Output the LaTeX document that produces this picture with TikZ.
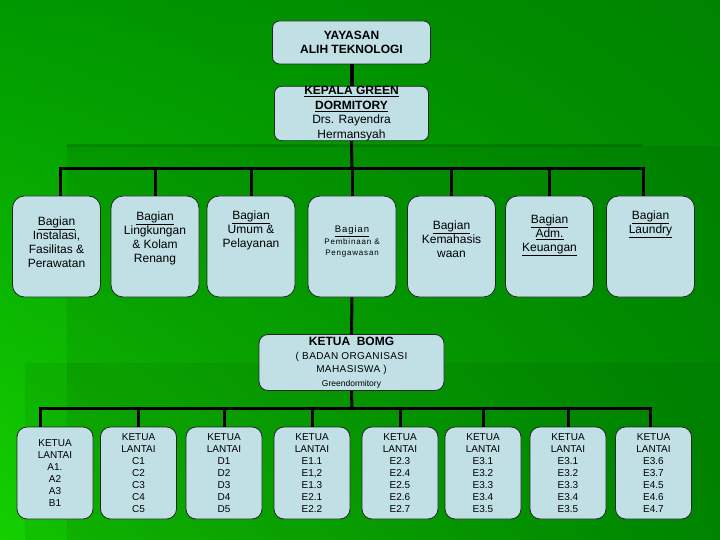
\documentclass[tikz,border=0pt]{standalone}
\usepackage{fontspec}
\setmainfont{Liberation Sans}
\usetikzlibrary{positioning, shadings}
\definecolor{boxblue}{RGB}{192,224,229}
\definecolor{bgdark}{RGB}{0,132,0}
\definecolor{bgmid}{RGB}{0,152,0}
\definecolor{bglight}{RGB}{20,208,0}

\begin{document}
\begin{tikzpicture}[
    x=1pt, y=-1pt,
    box/.style={rectangle, draw=black!85, line width=0.8pt, fill=boxblue, align=center, inner sep=0pt},
    head/.style={box, rounded corners=7pt, minimum width=158pt, font=\fontsize{12}{14}\selectfont},
    bagian/.style={box, rounded corners=12pt, minimum width=88pt, minimum height=101pt},
    btext/.style={align=center, inner sep=0pt, font=\fontsize{12}{14}\selectfont},
    lantai/.style={box, rounded corners=10pt, minimum width=76pt, minimum height=92pt, font=\fontsize{10}{12}\selectfont},
    line/.style={black, line width=3pt}
]
    \useasboundingbox (0,0) rectangle (720,540);
    % background
    \shade[upper left=bgmid, upper right=bgdark, lower left=bglight, lower right=bgmid] (0,0) rectangle (720,540);
    \fill[black, opacity=.07] (67,146) rectangle (720,540);
    \fill[black, opacity=.06] (25,363) rectangle (720,540);
    \draw[black, opacity=.15, line width=3pt] (67,146) -- (643,146);

    % top
    \node[head, minimum height=43pt] (yayasan) at (351.5,42.5) {\bfseries YAYASAN\\\bfseries ALIH TEKNOLOGI};
    \node[head, minimum width=154pt, minimum height=54pt, font=\fontsize{12}{14.5}\selectfont] (kepala) at (351.5,113.5)
        {\bfseries\underline{KEPALA GREEN}\\\bfseries\underline{DORMITORY}\\Drs. Rayendra\\Hermansyah};

    % bagian
    \node[bagian] (b1) at (56.5,246.5) {};
    \node[bagian] (b2) at (155,246.5) {};
    \node[bagian] (b3) at (251,246.5) {};
    \node[bagian] (b4) at (352,246.5) {};
    \node[bagian] (b5) at (451.5,246.5) {};
    \node[bagian] (b6) at (549.5,246.5) {};
    \node[bagian] (b7) at (650.5,246.5) {};
    \node[btext, below=21pt of b1.north] (b1t) {\underline{Bagian}\\Instalasi,\\Fasilitas \&\\Perawatan};
    \node[btext, below=16pt of b2.north] (b2t) {\underline{Bagian}\\Lingkungan\\\& Kolam\\Renang};
    \node[btext, below=15pt of b3.north] (b3t) {\underline{Bagian}\\Umum \&\\Pelayanan};
    \node[btext, below=30pt of b4.north, font=\fontsize{8}{11.5}\selectfont\addfontfeature{LetterSpace=10}] (b4t)
        {{\fontsize{9.5}{11.5}\selectfont\underline{Bagian}}\\Pembinaan \&\\Pengawasan};
    \node[btext, below=25pt of b5.north] (b5t) {\underline{Bagian}\\Kemahasis\\waan};
    \node[btext, below=19pt of b6.north] (b6t) {\underline{Bagian}\\\underline{Adm.}\\\underline{Keuangan}};
    \node[btext, below=15pt of b7.north] (b7t) {\underline{Bagian}\\\underline{Laundry}};

    % bomg
    \node[box, rounded corners=9pt, minimum width=185pt, minimum height=56pt, font=\fontsize{10}{13.5}\selectfont] (bomg) at (351.5,362.5)
        {{\fontsize{12}{13.5}\selectfont\bfseries KETUA~~BOMG}\\\addfontfeature{LetterSpace=4}( BADAN ORGANISASI\\\addfontfeature{LetterSpace=4}MAHASISWA )\\{\fontsize{8.5}{13.5}\selectfont Greendormitory}};

    % ketua lantai
    \node[lantai] (c1) at (55,473) {KETUA\\LANTAI\\A1.\\A2\\A3\\B1};
    \node[lantai] (c2) at (138.5,473) {KETUA\\LANTAI\\C1\\C2\\C3\\C4\\C5};
    \node[lantai] (c3) at (224,473) {KETUA\\LANTAI\\D1\\D2\\D3\\D4\\D5};
    \node[lantai] (c4) at (312,473) {KETUA\\LANTAI\\E1.1\\E1,2\\E1.3\\E2.1\\E2.2};
    \node[lantai] (c5) at (400,473) {KETUA\\LANTAI\\E2.3\\E2.4\\E2.5\\E2.6\\E2.7};
    \node[lantai] (c6) at (483,473) {KETUA\\LANTAI\\E3.1\\E3.2\\E3.3\\E3.4\\E3.5};
    \node[lantai] (c7) at (568,473) {KETUA\\LANTAI\\E3.1\\E3.2\\E3.3\\E3.4\\E3.5};
    \node[lantai] (c8) at (653.5,473) {KETUA\\LANTAI\\E3.6\\E3.7\\E4.5\\E4.6\\E4.7};

    % connectors
    \coordinate (bus1) at (352,169);
    \coordinate (bus2) at (352,408);
    \draw[line, line width=4pt] (yayasan.south) -- (kepala.north);
    \draw[line] (kepala.south) -- (bus1);
    \draw[line] ([xshift=4pt]b1.north) |- (bus1) -| ([xshift=-7pt]b7.north);
    \foreach \i in {2,...,6}
        \draw[line] (b\i.north) -- (b\i.north |- bus1);
    \draw[line] (b4.south) -- (bomg.north);
    \draw[line] (bomg.south) -- (bus2);
    \draw[line] ([xshift=-15pt]c1.north) |- (bus2) -| ([xshift=-3pt]c8.north);
    \foreach \i in {2,...,7}
        \draw[line] (c\i.north) -- (c\i.north |- bus2);
\end{tikzpicture}
\end{document}
